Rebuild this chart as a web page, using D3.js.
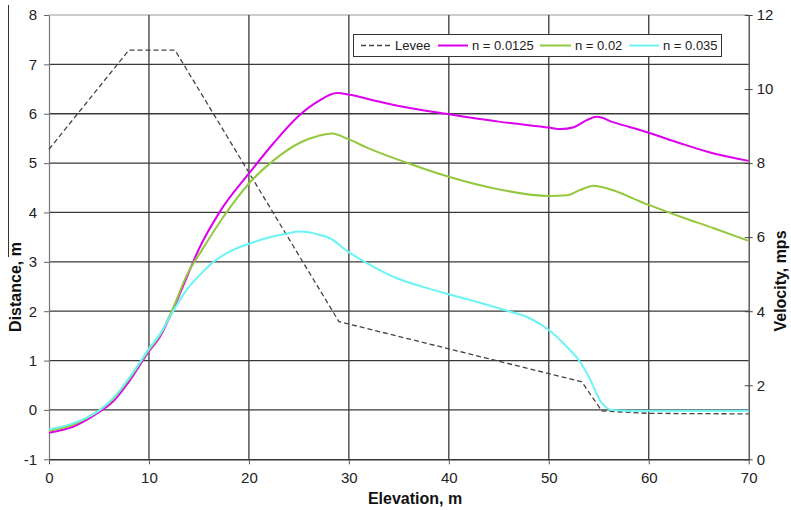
<!DOCTYPE html>
<html>
<head>
<meta charset="utf-8">
<script src="https://cdn.jsdelivr.net/npm/d3@7"></script>
<style>
  html, body { margin: 0; padding: 0; background: #fff; }
  svg { display: block; font-family: "Liberation Sans", Arial, sans-serif; }
</style>
</head>
<body>
<svg id="chart" width="791" height="510"></svg>
<script>
// Levee profile (left axis, m)
const leveeElev = [0, 8, 12.6, 29, 53.3, 55.3, 60, 70];
const leveeDist = [5.28, 7.29, 7.29, 1.79, 0.57, -0.02, -0.07, -0.08];

// Velocity profiles (right axis, mps) for three Manning's n values
const n0125Elev = [0, 2.4, 4.8, 6.4, 8.1, 9.9, 11.1, 12.4, 13.8, 15, 17.1, 20, 22.5, 25, 27, 28.8, 30, 31.8, 35, 40, 45, 50, 51.2, 52.5, 53.8, 54.8, 56.5, 60, 63.2, 66.5, 70];
const n0125Vel  = [0.72, 0.88, 1.24, 1.56, 2.14, 2.88, 3.31, 4.03, 4.93, 5.68, 6.69, 7.72, 8.55, 9.28, 9.68, 9.89, 9.85, 9.74, 9.54, 9.32, 9.12, 8.96, 8.92, 8.97, 9.16, 9.25, 9.10, 8.82, 8.53, 8.26, 8.06];

const n02Elev = [0, 2.4, 4.8, 6.4, 8.1, 9.9, 11.1, 12.4, 13.8, 15.3, 17.45, 20, 22.5, 25.1, 27, 28.3, 30, 31.8, 36, 40, 45, 50, 51.8, 53.1, 54.5, 55.2, 60, 63.2, 66.5, 70];
const n02Vel  = [0.77, 0.93, 1.28, 1.62, 2.2, 2.92, 3.36, 4.08, 4.98, 5.65, 6.55, 7.45, 8.08, 8.55, 8.74, 8.80, 8.64, 8.42, 7.99, 7.63, 7.29, 7.11, 7.13, 7.27, 7.39, 7.36, 6.87, 6.55, 6.24, 5.90];

const n035Elev = [0, 2.4, 5.1, 6.5, 8.8, 9.9, 11.1, 12.4, 13.75, 15.1, 16.5, 18, 20.1, 22, 23.8, 25.1, 27.1, 28.1, 29.9, 31.8, 34.8, 37.5, 40, 43.1, 46.1, 48.1, 50, 51.8, 53.1, 54, 55.2, 56.3, 58.1, 70];
const n035Vel  = [0.81, 0.97, 1.33, 1.68, 2.5, 2.95, 3.38, 3.99, 4.57, 4.98, 5.34, 5.6, 5.83, 5.99, 6.10, 6.15, 6.06, 5.97, 5.61, 5.30, 4.89, 4.65, 4.46, 4.23, 3.99, 3.81, 3.49, 3.04, 2.64, 2.23, 1.56, 1.33, 1.31, 1.31];

// Axis ticks
const xTicks = [0, 10, 20, 30, 40, 50, 60, 70];
const leftTicks = [-1, 0, 1, 2, 3, 4, 5, 6, 7, 8];
const rightTicks = [0, 2, 4, 6, 8, 10, 12];

const seriesNames = ["Levee", "n = 0.0125", "n = 0.02", "n = 0.035"];
const seriesColors = ["#444444", "#dd00ee", "#92c83e", "#6cf3f3"];

const svg = d3.select("#chart");
const L = 49, R = 748.7, T = 15, B = 459.3;

const x = d3.scaleLinear().domain([0, 70]).range([L, R]);
const yL = d3.scaleLinear().domain([-1, 8]).range([B, T]);
const yR = d3.scaleLinear().domain([0, 12]).range([B, T]);
const plain = d => String(d);

// stray rule at far left
svg.append("line").attr("x1", 8.5).attr("x2", 8.5).attr("y1", 5).attr("y2", 257)
  .attr("stroke", "#333").attr("stroke-width", 1);

// gridlines
const grid = svg.append("g");
grid.selectAll("line.h").data(leftTicks.filter(d => d > -1 && d < 8)).join("line")
  .attr("x1", L).attr("x2", R).attr("y1", d => yL(d)).attr("y2", d => yL(d))
  .attr("stroke", "#3a3a3a").attr("stroke-width", 1.3);
grid.append("line").attr("x1", L).attr("x2", R).attr("y1", yL(8)).attr("y2", yL(8))
  .attr("stroke", "#999").attr("stroke-width", 1.2);
grid.selectAll("line.v").data(xTicks.filter(d => d > 0 && d < 70)).join("line")
  .attr("x1", d => x(d)).attr("x2", d => x(d)).attr("y1", T).attr("y2", B)
  .attr("stroke", "#3a3a3a").attr("stroke-width", 1.3);

// axes
const axisStyle = g => {
  g.selectAll("text").attr("font-family", "Liberation Sans, Arial, sans-serif")
    .attr("font-size", 15).attr("fill", "#222");
};
svg.append("g").attr("transform", `translate(0,${B})`)
  .call(d3.axisBottom(x).tickValues(xTicks).tickFormat(plain).tickSize(5).tickPadding(8).tickSizeOuter(0))
  .call(axisStyle)
  .call(g => g.select(".domain").attr("stroke", "#333").attr("stroke-width", 1.4))
  .call(g => g.selectAll(".tick line").attr("stroke", "#555"));
svg.append("g").attr("transform", `translate(${L},0)`)
  .call(d3.axisLeft(yL).tickValues(leftTicks).tickFormat(plain).tickSize(5).tickPadding(7).tickSizeOuter(0))
  .call(axisStyle)
  .call(g => g.select(".domain").attr("stroke", "#777").attr("stroke-width", 1.2))
  .call(g => g.selectAll(".tick line").attr("stroke", "#666"));
svg.append("g").attr("transform", `translate(${R},0)`)
  .call(d3.axisRight(yR).tickValues(rightTicks).tickFormat(plain).tickSize(4).tickPadding(4).tickSizeOuter(0))
  .call(axisStyle)
  .call(g => g.select(".domain").attr("stroke", "#444").attr("stroke-width", 1.3))
  .call(g => g.selectAll(".tick line").attr("x1", -4).attr("stroke", "#444"));

// axis titles
svg.append("text").attr("x", 415).attr("y", 504).attr("text-anchor", "middle")
  .attr("font-size", 16).attr("font-weight", "bold").attr("fill", "#111").text("Elevation, m");
svg.append("text").attr("transform", "translate(21,287) rotate(-90)").attr("text-anchor", "middle")
  .attr("font-size", 16).attr("font-weight", "bold").attr("fill", "#111").text("Distance, m");
svg.append("text").attr("transform", "translate(786,281) rotate(-90)").attr("text-anchor", "middle")
  .attr("font-size", 16).attr("font-weight", "bold").attr("fill", "#111").text("Velocity, mps");

// levee line
const leveeLine = d3.line().x(d => x(d[0])).y(d => yL(d[1]));
svg.append("path").datum(d3.zip(leveeElev, leveeDist)).attr("d", leveeLine)
  .attr("fill", "none").attr("stroke", seriesColors[0]).attr("stroke-width", 1.3)
  .attr("stroke-dasharray", "5,3");

// velocity curves
const velLine = d3.line().x(d => x(d[0])).y(d => yR(d[1])).curve(d3.curveMonotoneX);
const velSeries = [
  d3.zip(n0125Elev, n0125Vel),
  d3.zip(n02Elev, n02Vel),
  d3.zip(n035Elev, n035Vel)
];
velSeries.forEach((s, i) => {
  svg.append("path").datum(s).attr("d", velLine)
    .attr("fill", "none").attr("stroke", seriesColors[i + 1]).attr("stroke-width", 2)
    .attr("stroke-linejoin", "round");
});

// legend
const lg = svg.append("g");
lg.append("rect").attr("x", 353.5).attr("y", 34.5).attr("width", 368).attr("height", 22)
  .attr("fill", "#fff").attr("stroke", "#333").attr("stroke-width", 1);
const legendItems = [
  { x1: 361, x2: 392, tx: 395 },
  { x1: 438, x2: 468, tx: 472 },
  { x1: 540, x2: 571, tx: 575 },
  { x1: 629, x2: 659, tx: 663 }
];
legendItems.forEach((it, i) => {
  const ln = lg.append("line").attr("x1", it.x1).attr("x2", it.x2).attr("y1", 45.5).attr("y2", 45.5)
    .attr("stroke", seriesColors[i]).attr("stroke-width", i === 0 ? 1.3 : 2);
  if (i === 0) ln.attr("stroke-dasharray", "5,3");
  lg.append("text").attr("x", it.tx).attr("y", 50).attr("font-size", 13).attr("fill", "#222")
    .text(seriesNames[i]);
});
</script>
</body>
</html>
